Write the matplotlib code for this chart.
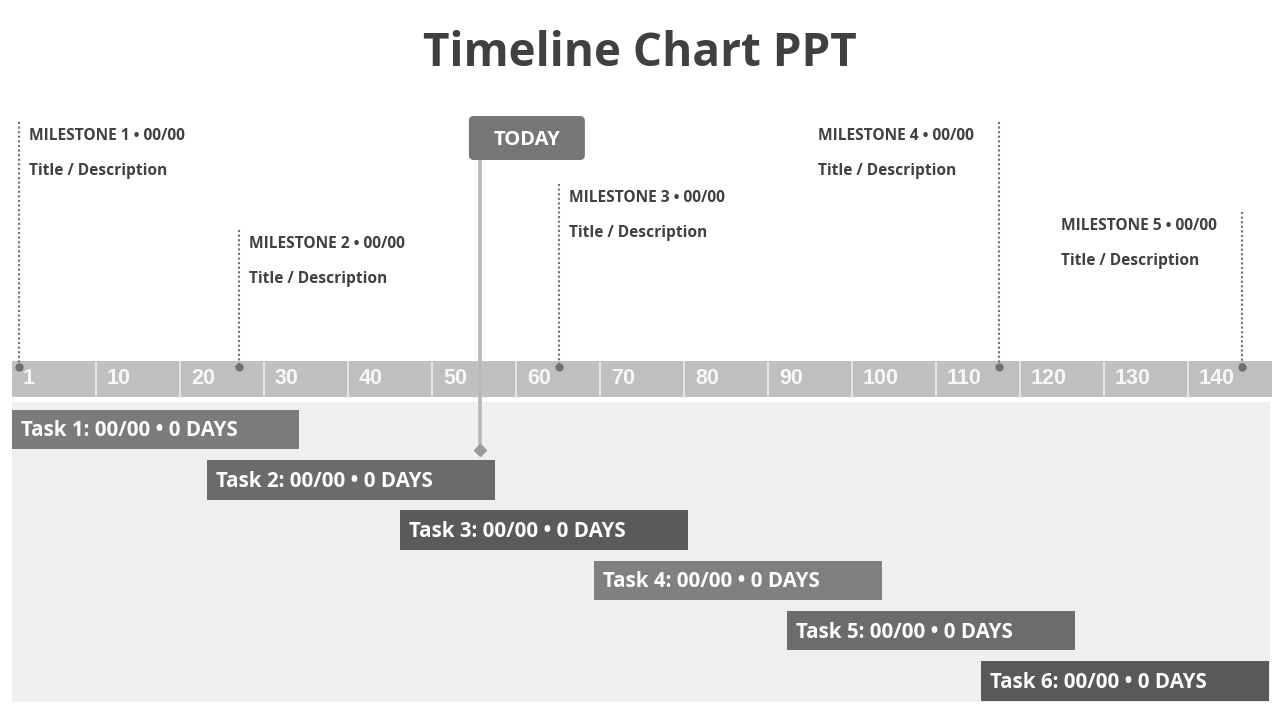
import matplotlib
matplotlib.use("Agg")
import matplotlib.pyplot as plt
from matplotlib.patches import Rectangle, FancyBboxPatch

# ---------------- data ----------------
title = "Timeline Chart PPT"
tick_values = [0, 10, 20, 30, 40, 50, 60, 70, 80, 90, 100, 110, 120, 130, 140]
tick_labels = ["1", "10", "20", "30", "40", "50", "60", "70", "80", "90",
               "100", "110", "120", "130", "140"]
axis_end = 150

milestone_labels = ["MILESTONE 1 \u2022 00/00", "MILESTONE 2 \u2022 00/00",
                    "MILESTONE 3 \u2022 00/00", "MILESTONE 4 \u2022 00/00",
                    "MILESTONE 5 \u2022 00/00"]
milestone_desc = ["Title / Description"] * 5
milestone_pos = [0.8, 27.0, 65.1, 117.5, 146.4]

task_labels = ["Task 1: 00/00 \u2022 0 DAYS", "Task 2: 00/00 \u2022 0 DAYS",
               "Task 3: 00/00 \u2022 0 DAYS", "Task 4: 00/00 \u2022 0 DAYS",
               "Task 5: 00/00 \u2022 0 DAYS", "Task 6: 00/00 \u2022 0 DAYS"]
task_start = [0.0, 23.2, 46.2, 69.3, 92.3, 115.4]
task_end = [34.2, 57.5, 80.5, 103.6, 126.5, 149.7]

today_value = 55.7
today_label = "TODAY"

# ---------------- style / layout (pixel rows) ----------------
FONT = ["Open Sans", "DejaVu Sans"]
NARROW = ["Liberation Sans Narrow", "Liberation Sans", "DejaVu Sans"]
dark = "#404040"
ms_top = [122, 230, 184, 122, 212]
ms_text_right = [True, True, True, False, False]
task_colors = ["#7b7b7b", "#6b6b6b", "#5a5a5a", "#808080", "#6c6c6c", "#595959"]
px_per_unit = 8.4
left_px = 12

fig = plt.figure(figsize=(12.8, 7.2), dpi=100)
ax = fig.add_axes([0, 0, 1, 1])
ax.set_xlim(-left_px / px_per_unit, (1280 - left_px) / px_per_unit)
ax.set_ylim(720, 0)
ax.axis("off")

u = lambda px: px / px_per_unit  # pixel offset -> data units

# title
ax.text(u(640 - left_px), 53, title, ha="center", va="center",
        fontsize=33, fontweight="bold", color=dark, family=FONT)

# task background
ax.add_patch(Rectangle((0, 402), 149.8, 300, facecolor="#efefef", edgecolor="none", zorder=0))

# axis band
ax.add_patch(Rectangle((0, 361), axis_end, 36, facecolor="#bfbfbf", edgecolor="none", zorder=1))
for v, lab in zip(tick_values, tick_labels):
    if v > 0:
        ax.plot([v, v], [361, 397], color="#ececec", lw=1.2, zorder=2)
    ax.text(v + u(11), 378, lab, ha="left", va="center", fontsize=15.5,
            fontweight="bold", color="#f7f7f7", family=NARROW, zorder=3)

# milestones
for pos, top, lab, desc, right in zip(milestone_pos, ms_top, milestone_labels,
                                      milestone_desc, ms_text_right):
    ax.plot([pos, pos], [top, 367], color="#707070", lw=1.5, ls=(0, (1, 1.2)), zorder=4)
    ax.plot([pos], [367], marker="o", ms=5, color="#707070", zorder=5)
    tx = pos + u(10) if right else pos - u(181)
    ax.text(tx, top + 14, lab, ha="left", va="center", fontsize=11.2,
            fontweight="bold", color=dark, family=FONT, zorder=5)
    ax.text(tx, top + 49, desc, ha="left", va="center", fontsize=11.2,
            fontweight="bold", color=dark, family=FONT, zorder=5)

# tasks
for i, (s, e, lab, c) in enumerate(zip(task_start, task_end, task_labels, task_colors)):
    y0 = 410 + i * 50.3
    ax.barh(y0 + 19.5, e - s, left=s, height=39.5, color=c, edgecolor="none", zorder=3)
    ax.text(s + u(9), y0 + 21, lab, ha="left", va="center", fontsize=14.8,
            fontweight="bold", color="white", family=FONT, zorder=4)

# today marker
ax.plot([today_value, today_value], [160, 450], color="#b8b8b8", lw=2.6, zorder=6)
ax.plot([today_value], [450], marker="D", ms=6, color="#9a9a9a", zorder=7)
bx0 = today_value - u(11)
ax.add_patch(FancyBboxPatch((bx0, 116), u(116), 44,
                            boxstyle="round,pad=0,rounding_size=%f" % u(5),
                            mutation_aspect=px_per_unit,
                            facecolor="#767676", edgecolor="none", zorder=7))
ax.text(bx0 + u(58), 140, today_label, ha="center", va="center", fontsize=14.5,
        fontweight="bold", color="white", family=FONT, zorder=8)

fig.savefig("out.png", dpi=100, facecolor="white")
